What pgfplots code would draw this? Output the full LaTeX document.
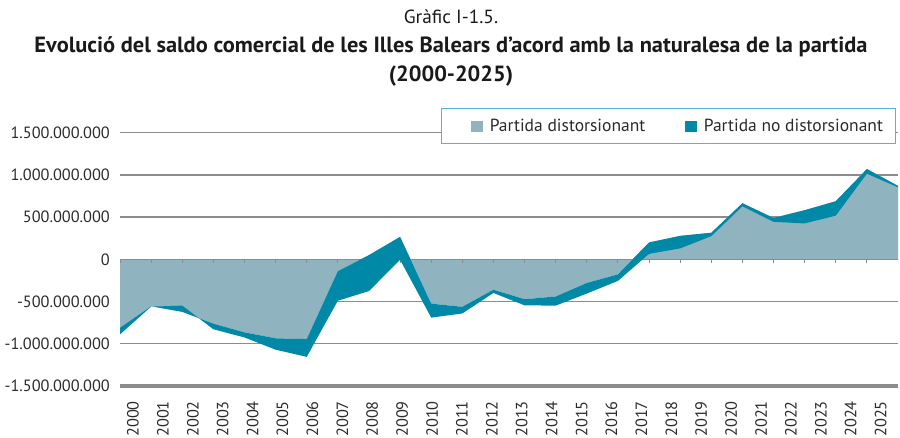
\documentclass[border=0pt]{standalone}
\usepackage{pgfplots}
\pgfplotsset{compat=1.18}
\usepackage{pgfplotstable}
\usepackage{graphicx}
\usepackage{fontspec}
\setmainfont{PT Sans}

\definecolor{greyc}{HTML}{8FB3BF}
\definecolor{tealc}{HTML}{0088A7}
\definecolor{gridc}{HTML}{8C8C8C}
\definecolor{legc}{HTML}{5AB4C8}
\definecolor{txtc}{HTML}{2B2B2B}
\definecolor{titc}{HTML}{1A1A1A}

% values in millions of euros: D = partida distorsionant (from 0), T = D + partida no distorsionant
\pgfplotstableread{
x D T
0 -810 -888
1 -556 -560
2 -621 -548
3 -762 -828
4 -865 -925
5 -935 -1070
6 -944 -1155
7 -140 -490
8 50 -376
9 266 -5
10 -525 -690
11 -562 -641
12 -360 -398
13 -472 -545
14 -440 -548
15 -280 -405
16 -178 -255
17 200 65
18 278 130
19 315 275
20 665 628
21 490 445
22 582 425
23 688 518
24 1070 1015
25 870 853
}\saldo

% band of the partida no distorsionant: T forward, then D backward
\pgfplotstableread{
x y
0 -888
1 -560
2 -548
3 -828
4 -925
5 -1070
6 -1155
7 -490
8 -376
9 -5
10 -690
11 -641
12 -398
13 -545
14 -548
15 -405
16 -255
17 65
18 130
19 275
20 628
21 445
22 425
23 518
24 1015
25 853
25 870
24 1070
23 688
22 582
21 490
20 665
19 315
18 278
17 200
16 -178
15 -280
14 -440
13 -472
12 -360
11 -562
10 -525
9 266
8 50
7 -140
6 -944
5 -935
4 -865
3 -762
2 -621
1 -556
0 -810
}\banda

\begin{document}%
\sbox0{\fontsize{22bp}{26bp}\selectfont\bfseries Evolució del saldo comercial de les Illes Balears d’acord amb la naturalesa de la partida}%
\pgfmathsetmacro\fac{836.12/\the\wd0}%
\begin{tikzpicture}
\useasboundingbox (0,0) rectangle (900bp,438bp);
\begin{axis}[
  at={(120bp,52bp)}, anchor=south west,
  scale only axis, width=778bp, height=253.3bp,
  xmin=0, xmax=25, ymin=-1500, ymax=1500,
  axis x line*=bottom, axis y line*=left,
  y axis line style={draw=none},
  x axis line style={gridc, line width=4bp, -},
  tick style={draw=none}, major tick length=0pt,
  ytick={-1500,-1000,-500,0,500,1000,1500},
  yticklabels={-1.500.000.000,-1.000.000.000,-500.000.000,0,500.000.000,1.000.000.000,1.500.000.000},
  yticklabel style={font=\fontsize{16.3bp}{19bp}\selectfont, text=txtc, anchor=east, inner sep=0bp, xshift=-10bp},
  xtick={0.418,1.379,2.340,3.301,4.262,5.223,6.184,7.145,8.106,9.067,10.028,10.989,11.950,12.911,13.872,14.833,15.794,16.755,17.716,18.677,19.638,20.599,21.560,22.521,23.482,24.443},
  xticklabels={2000,2001,2002,2003,2004,2005,2006,2007,2008,2009,2010,2011,2012,2013,2014,2015,2016,2017,2018,2019,2020,2021,2022,2023,2024,2025},
  xticklabel style={font=\fontsize{16.3bp}{19bp}\selectfont, text=txtc, inner sep=0bp, yshift=-15bp, rotate=90, anchor=east},
  xmajorgrids=false, ymajorgrids, grid style={gridc, line width=1.3bp},
  legend columns=2,
  legend image code/.code={\path (-17bp,0bp); \fill[#1] (0bp,-5.8bp) rectangle (11.6bp,5.8bp);},
  legend style={at={(0.998,1.096)}, anchor=north east, draw=legc, line width=1bp, fill=white,
    font=\fontsize{17.5bp}{20bp}\selectfont, text=txtc, inner xsep=13bp, inner ysep=10.5bp,
    nodes={inner sep=0bp},
    /tikz/every odd column/.append style={column sep=7bp},
    /tikz/every even column/.append style={column sep=23bp}},
]
\addplot[fill=greyc, draw=none] table[x=x, y=D] {\saldo} \closedcycle;
\addlegendentry{Partida distorsionant}
\draw[gridc, line width=1.3bp] (axis cs:0,0) -- (axis cs:25,0);
\pgfplotsinvokeforeach{0,...,25}{\draw[gridc, line width=1bp] (axis cs:#1,0) -- (axis cs:#1,-45);}
\addplot[fill=tealc, draw=none] table[x=x, y=y] {\banda} -- cycle;
\addlegendentry{Partida no distorsionant}
\end{axis}
\node[text=titc, font=\fontsize{19bp}{22bp}\selectfont] at (451bp,421bp) {\scalebox{\fac}[1]{Gràfic I-1.5.}};
\node[text=titc, font=\fontsize{22bp}{26bp}\selectfont\bfseries] at (451bp,391bp) {\scalebox{\fac}[1]{Evolució del saldo comercial de les Illes Balears d’acord amb la naturalesa de la partida}};
\node[text=titc, font=\fontsize{22bp}{26bp}\selectfont\bfseries] at (451bp,362bp) {\scalebox{\fac}[1]{(2000-2025)}};
\end{tikzpicture}%
\end{document}
